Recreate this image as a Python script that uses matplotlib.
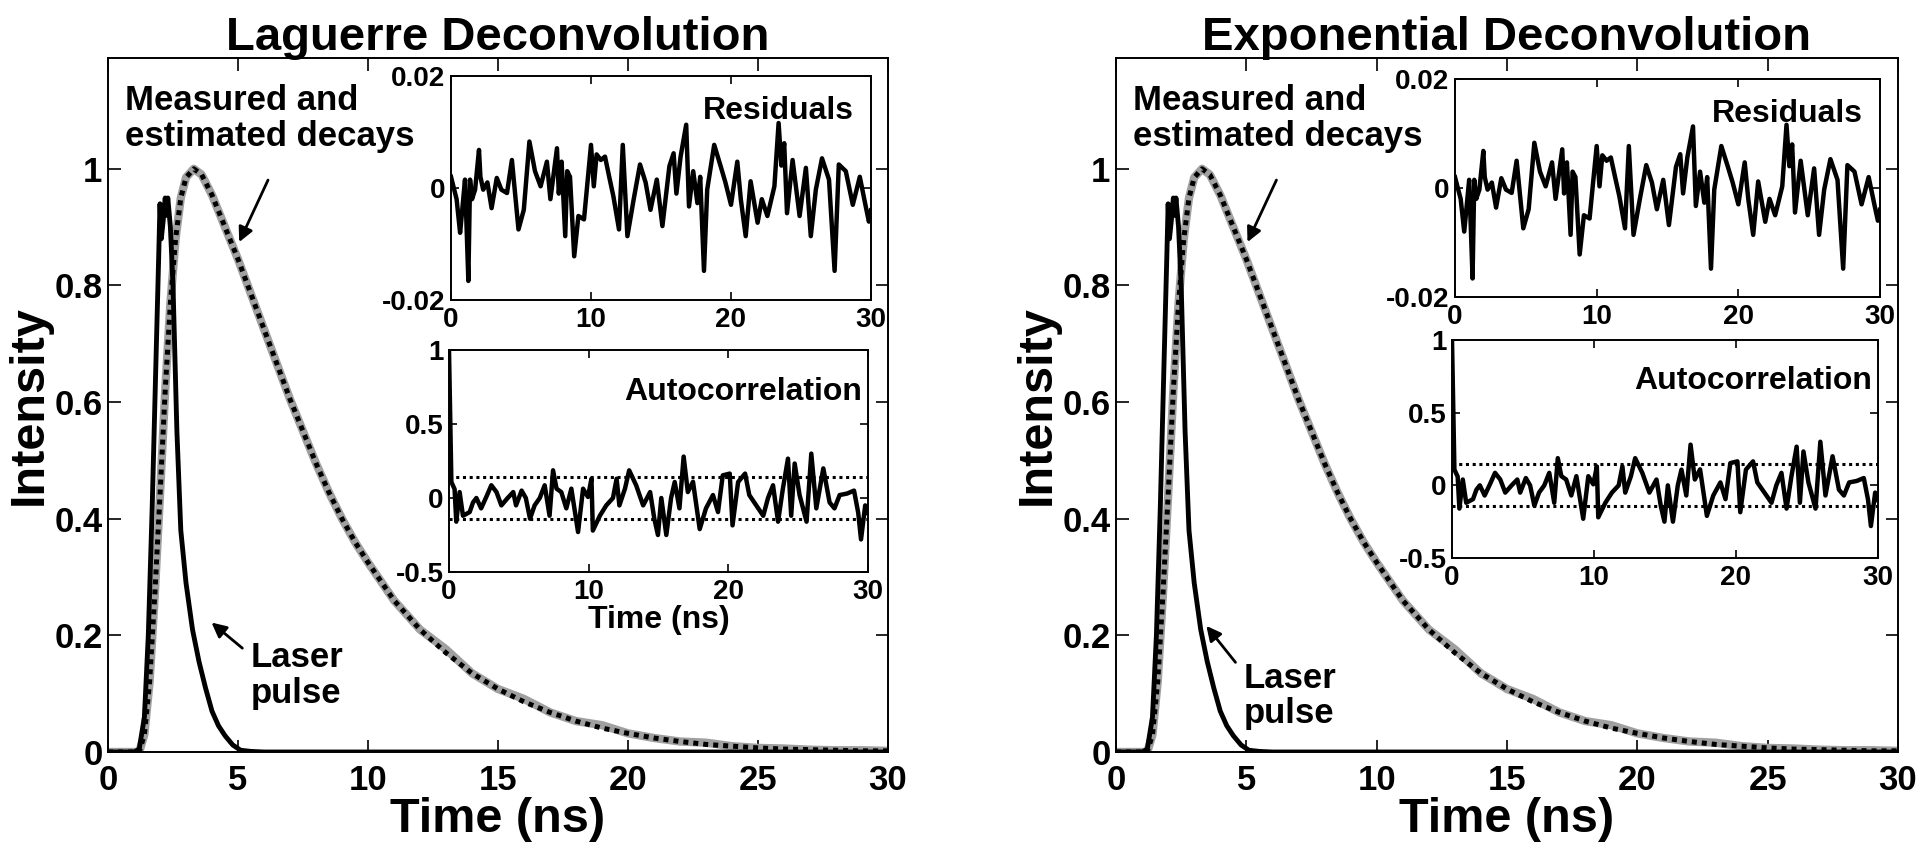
import matplotlib
matplotlib.use("Agg")
import matplotlib.pyplot as plt
import numpy as np

plt.rcParams["font.family"] = ["Liberation Sans", "DejaVu Sans"]
plt.rcParams["font.weight"] = "bold"
plt.rcParams["axes.titleweight"] = "bold"
plt.rcParams["axes.labelweight"] = "bold"
plt.rcParams["axes.unicode_minus"] = False

# --- main decay curves ---
t_laser = [0, 1.0, 1.2, 1.4, 1.55, 1.7, 1.85, 1.95, 2.0, 2.05, 2.12, 2.2, 2.25,
           2.3, 2.4, 2.5, 2.65, 2.8, 3.0, 3.25, 3.5, 3.75, 4.0, 4.25, 4.5, 4.8,
           5.1, 5.5, 6.0, 10, 15, 20, 25, 30]
laser = [0, 0, 0.005, 0.06, 0.2, 0.42, 0.68, 0.85, 0.94, 0.88, 0.91, 0.95, 0.92,
         0.95, 0.9, 0.8, 0.55, 0.38, 0.29, 0.21, 0.155, 0.11, 0.07, 0.045, 0.028,
         0.012, 0.003, 0.001, 0, 0, 0, 0, 0, 0]

t_decay = [0, 1.2, 1.4, 1.6, 1.8, 2.0, 2.2, 2.4, 2.6, 2.8, 3.0, 3.3, 3.6, 4.0,
           4.5, 5.0, 5.5, 6.0, 6.5, 7.0, 7.5, 8.0, 8.5, 9.0, 9.5, 10, 11, 12,
           13, 14, 15, 16, 17, 18, 19, 20, 21, 22, 23, 24, 25, 26, 27, 28, 29, 30]
decay_fit = [0, 0, 0.03, 0.12, 0.27, 0.44, 0.62, 0.77, 0.88, 0.95, 0.985, 1.0,
             0.99, 0.955, 0.9, 0.845, 0.785, 0.725, 0.665, 0.605, 0.55, 0.495,
             0.445, 0.40, 0.36, 0.325, 0.26, 0.21, 0.17, 0.135, 0.108, 0.086,
             0.068, 0.053, 0.041, 0.032, 0.024, 0.018, 0.013, 0.01, 0.007,
             0.005, 0.004, 0.003, 0.002, 0.002]
decay_meas = [0, 0, 0.03, 0.12, 0.27, 0.44, 0.62, 0.77, 0.88, 0.95, 0.985, 1.0,
              0.99, 0.955, 0.9, 0.845, 0.785, 0.725, 0.665, 0.605, 0.55, 0.495,
              0.445, 0.40, 0.36, 0.325, 0.26, 0.21, 0.176, 0.135, 0.108, 0.091,
              0.068, 0.053, 0.046, 0.032, 0.024, 0.018, 0.016, 0.01, 0.007,
              0.006, 0.004, 0.003, 0.003, 0.002]

# --- residuals inset ---
t_res = [0, 0.4, 0.65, 0.8, 1.0, 1.1, 1.24, 1.36, 1.5, 1.72, 2.0, 2.1, 2.3, 2.6,
         2.9, 3.27, 3.6, 4.0, 4.35, 4.82, 5.2, 5.6, 6.0, 6.4, 6.85, 7.1, 7.57,
         7.7, 7.9, 8.16, 8.3, 8.5, 8.8, 9.1, 9.5, 10.0, 10.2, 10.4, 10.7, 11.0,
         11.3, 11.6, 12.0, 12.27, 12.6, 13.05, 13.5, 13.9, 14.25, 14.7, 15.1,
         15.6, 15.9, 16.1, 16.4, 16.8, 17.0, 17.3, 17.6, 17.8, 18.07, 18.3,
         18.8, 19.26, 19.6, 20.0, 20.45, 20.7, 21.05, 21.4, 21.9, 22.2, 22.6,
         23.1, 23.4, 23.6, 23.8, 24.0, 24.4, 24.9, 25.35, 25.7, 26.06, 26.5,
         27.0, 27.4, 27.7, 28.2, 28.7, 29.2, 29.6, 29.85, 30.0]
residuals = [0.002, -0.002, -0.008, -0.004, 0.0015, -0.006, -0.0166, 0.0015,
             -0.002, -0.0003, 0.0068, 0.002, -0.0003, 0.001, -0.0036, 0.0018,
             -0.0003, -0.0009, 0.005, -0.0074, -0.0039, 0.0083, 0.003, 0.0003,
             0.0047, -0.002, 0.0071, -0.001, 0.0047, -0.0086, 0.003, 0.002,
             -0.0122, -0.005, -0.0056, 0.0077, 0.0003, 0.006, 0.005, 0.0056,
             0.002, -0.0015, -0.0074, 0.0077, -0.0086, -0.002, 0.0042, 0.001,
             -0.0039, 0.0015, -0.0068, 0.0039, 0.0062, -0.001, 0.0056, 0.0113,
             -0.0033, 0.003, -0.0027, 0.002, -0.0148, -0.0003, 0.0077, 0.0039,
             0.001, -0.003, 0.0047, -0.002, -0.0086, 0.0012, -0.0062, -0.002,
             -0.005, 0.0003, 0.0116, 0.004, 0.008, -0.0045, 0.005, -0.005,
             0.0036, -0.0086, -0.0003, 0.0053, 0.0015, -0.0148, 0.0042, 0.003,
             -0.003, 0.002, -0.003, -0.006, -0.004]

# --- autocorrelation inset ---
t_ac = [0, 0.17, 0.4, 0.52, 0.76, 1.0, 1.48, 1.72, 1.96, 2.3, 2.67, 3.03, 3.4,
        3.75, 4.2, 4.6, 4.8, 5.2, 5.5, 5.8, 6.13, 6.5, 6.85, 7.2, 7.45, 7.7,
        8.04, 8.4, 8.76, 9.24, 9.6, 9.95, 10.2, 10.3, 10.8, 11.26, 11.74, 12.0,
        12.2, 12.6, 12.9, 13.4, 13.9, 14.4, 14.7, 14.96, 15.2, 15.56, 15.9,
        16.16, 16.5, 16.8, 17.1, 17.47, 17.95, 18.4, 18.9, 19.26, 19.6, 20.1,
        20.3, 20.7, 21.2, 21.5, 22.0, 22.5, 22.84, 23.2, 23.56, 23.9, 24.27,
        24.5, 24.75, 25.1, 25.6, 25.94, 26.3, 26.8, 27.25, 27.6, 27.97, 28.5,
        29.0, 29.3, 29.5, 29.8, 30.0]
autocorr = [1.0, 0.108, 0.06, -0.16, 0.04, -0.12, -0.095, -0.03, 0.0, -0.07,
            0.007, 0.086, 0.04, -0.05, 0.0, 0.04, -0.05, 0.05, 0.0, -0.14,
            -0.05, 0.0, 0.086, -0.12, 0.187, 0.063, 0.04, -0.07, 0.063, -0.23,
            0.063, 0.007, 0.13, -0.22, -0.12, -0.05, 0.0, 0.13, -0.05, 0.063,
            0.187, 0.086, -0.05, 0.04, -0.14, -0.25, 0.0, -0.25, 0.0, 0.108,
            -0.07, 0.28, 0.04, 0.11, -0.21, -0.07, 0.02, -0.095, 0.153, 0.165,
            -0.185, 0.108, 0.165, 0.02, -0.05, -0.12, 0.0, 0.086, -0.16, 0.06,
            0.266, -0.12, 0.233, 0.02, -0.16, 0.30, -0.07, 0.2, -0.03, -0.07,
            0.02, 0.03, 0.05, -0.1, -0.28, -0.05, -0.1]
conf_bound = 0.145

panels = [
    {"title": "Laguerre Deconvolution", "left": 108, "right": 888,
     "res": (451, 871, 76, 300), "ac": (449, 868, 350, 572),
     "laser_txt": (5.5, 0.19), "laser_tail": (5.25, 0.175), "laser_head": (3.9, 0.225),
     "ac_xlabel": True},
    {"title": "Exponential Deconvolution", "left": 1116, "right": 1898,
     "res": (1455, 1880, 79, 297), "ac": (1452, 1878, 340, 558),
     "laser_txt": (4.9, 0.155), "laser_tail": (4.65, 0.15), "laser_head": (3.4, 0.22),
     "ac_xlabel": False},
]

W, H = 1920, 849
fig = plt.figure(figsize=(W / 100, H / 100), dpi=100)


def px_axes(x0, x1, ytop, ybot):
    return fig.add_axes([x0 / W, (H - ybot) / H, (x1 - x0) / W, (ybot - ytop) / H])


def style(ax, size, length, xpad, ypad):
    ax.tick_params(direction="in", top=True, right=True, length=length,
                   width=1.2, labelsize=size)
    ax.tick_params(axis="x", pad=xpad)
    ax.tick_params(axis="y", pad=ypad)
    for s in ax.spines.values():
        s.set_linewidth(1.4)


for p in panels:
    ax = px_axes(p["left"], p["right"], 58, 752)
    ax.plot(t_decay, decay_meas, color="#a0a0a0", lw=6, solid_capstyle="butt")
    ax.plot(t_decay, decay_fit, color="black", lw=3.6, linestyle=(0, (1, 1)))
    ax.plot(t_laser, laser, color="black", lw=3.5)
    ax.set_xlim(0, 30)
    ax.set_ylim(0, 1.19)
    ax.set_xticks([0, 5, 10, 15, 20, 25, 30])
    ax.set_yticks([0, 0.2, 0.4, 0.6, 0.8, 1])
    ax.set_yticklabels(["0", "0.2", "0.4", "0.6", "0.8", "1"])
    style(ax, 25, 9, 9, 4)
    ax.set_xlabel("Time (ns)", fontsize=35, labelpad=0)
    ax.set_ylabel("Intensity", fontsize=35, labelpad=2)
    ax.set_title(p["title"], fontsize=34, pad=6)

    ax.text(0.65, 1.145, "Measured and\nestimated decays", fontsize=25,
            ha="left", va="top", linespacing=1.1)
    ax.annotate("", xy=(5.0, 0.87), xytext=(6.2, 0.985),
                arrowprops=dict(arrowstyle="-|>", color="black", lw=2,
                                mutation_scale=22))
    ax.text(p["laser_txt"][0], p["laser_txt"][1], "Laser\npulse", fontsize=25,
            ha="left", va="top", linespacing=1.1)
    ax.annotate("", xy=p["laser_head"], xytext=p["laser_tail"],
                arrowprops=dict(arrowstyle="-|>", color="black", lw=2,
                                mutation_scale=22))

    # residuals inset
    x0, x1, yt, yb = p["res"]
    axr = px_axes(x0, x1, yt, yb)
    axr.plot(t_res, residuals, color="black", lw=3.2)
    axr.set_xlim(0, 30)
    axr.set_ylim(-0.02, 0.02)
    axr.set_xticks([0, 10, 20, 30])
    axr.set_yticks([-0.02, 0, 0.02])
    axr.set_yticklabels(["-0.02", "0", "0.02"])
    style(axr, 20, 6, 5, 4)
    axr.text(0.96, 0.91, "Residuals", transform=axr.transAxes, fontsize=23,
             ha="right", va="top")

    # autocorrelation inset
    x0, x1, yt, yb = p["ac"]
    axa = px_axes(x0, x1, yt, yb)
    axa.plot(t_ac, autocorr, color="black", lw=3.2)
    axa.axhline(conf_bound, color="black", lw=2.2, linestyle=(0, (1, 1.2)))
    axa.axhline(-conf_bound, color="black", lw=2.2, linestyle=(0, (1, 1.2)))
    axa.set_xlim(0, 30)
    axa.set_ylim(-0.5, 1)
    axa.set_xticks([0, 10, 20, 30])
    axa.set_yticks([-0.5, 0, 0.5, 1])
    axa.set_yticklabels(["-0.5", "0", "0.5", "1"])
    style(axa, 20, 6, 5, 4)
    axa.text(0.985, 0.88, "Autocorrelation", transform=axa.transAxes,
             fontsize=23, ha="right", va="top")
    if p["ac_xlabel"]:
        axa.set_xlabel("Time (ns)", fontsize=23, labelpad=0)

fig.savefig("out.png", dpi=100)
